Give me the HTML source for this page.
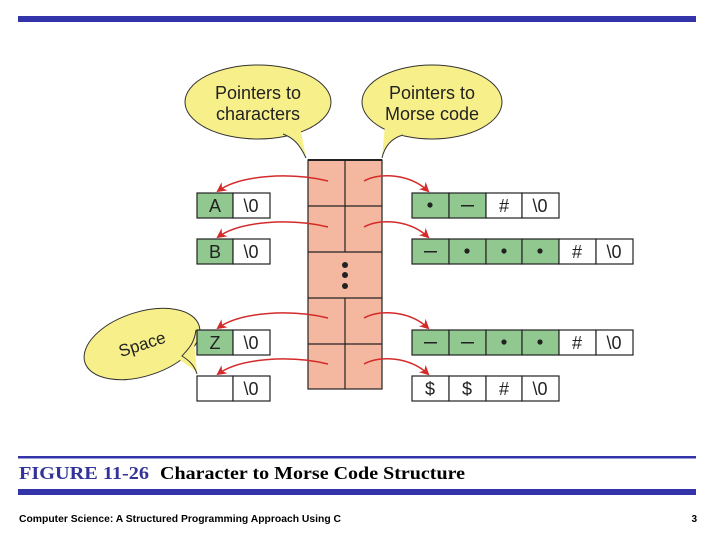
<!DOCTYPE html>
<html><head><meta charset="utf-8"><style>
html,body{margin:0;padding:0;background:#fff;width:720px;height:540px;overflow:hidden}
svg{display:block}
</style></head><body>
<svg width="720" height="540" xmlns="http://www.w3.org/2000/svg" font-family="Liberation Sans, sans-serif">
<defs>
<marker id="ah" markerWidth="10" markerHeight="10" refX="8" refY="5" orient="auto" markerUnits="userSpaceOnUse">
<path d="M0,0 L10,5 L0,10 L3,5 Z" fill="#d42a2a"/></marker>
</defs>
<rect x="18" y="16" width="678" height="6" fill="#3333aa"/>
<!-- bubbles -->
<ellipse cx="258" cy="102" rx="73" ry="37" fill="#f7ef8a" stroke="#333" stroke-width="1"/>
<path d="M306,158 C300,145 295,138 283,134 L300,126 Z" fill="#f7ef8a"/>
<path d="M306,158 C300,145 294,138 283,134" fill="none" stroke="#333"/>
<ellipse cx="432" cy="102" rx="70" ry="37" fill="#f7ef8a" stroke="#333" stroke-width="1"/>
<path d="M382,158 C385,145 392,138 405,135 L385,125 Z" fill="#f7ef8a"/>
<path d="M382,158 C385,145 392,138 403,135" fill="none" stroke="#333"/>
<text x="258" y="99" font-size="18" text-anchor="middle" fill="#222">Pointers to</text>
<text x="258" y="120" font-size="18" text-anchor="middle" fill="#222">characters</text>
<text x="432" y="99" font-size="18" text-anchor="middle" fill="#222">Pointers to</text>
<text x="432" y="120" font-size="18" text-anchor="middle" fill="#222">Morse code</text>
<!-- space bubble -->
<ellipse cx="142" cy="344" rx="60" ry="32" transform="rotate(-18 142 344)" fill="#f7ef8a" stroke="#333"/>
<path d="M193,332 L197,372 L180,360 Z" fill="#f7ef8a"/>
<path d="M196,330 C194,345 187,350 182,356 C188,360 194,364 197,374" fill="none" stroke="#333"/>
<text x="142" y="350" font-size="17" text-anchor="middle" fill="#222" transform="rotate(-18 142 344)">Space</text>
<!-- array -->
<rect x="308" y="160" width="74" height="229" fill="#f4b8a0" stroke="#222" stroke-width="1.2"/>
<line x1="308" y1="160" x2="382" y2="160" stroke="#222" stroke-width="2"/>
<g stroke="#222" stroke-width="1.2">
<line x1="345" y1="160" x2="345" y2="252"/><line x1="345" y1="298" x2="345" y2="389"/>
<line x1="308" y1="206" x2="382" y2="206"/><line x1="308" y1="252" x2="382" y2="252"/>
<line x1="308" y1="298" x2="382" y2="298"/><line x1="308" y1="344" x2="382" y2="344"/>
</g>
<g fill="#222"><circle cx="345" cy="265" r="3"/><circle cx="345" cy="275" r="3"/><circle cx="345" cy="286" r="3"/></g>
<!-- arrows -->
<g fill="none" stroke="#d42a2a" stroke-width="1.5" marker-end="url(#ah)">
<path d="M328,181 C290,172 240,175 218,191"/>
<path d="M328,227 C290,218 240,221 218,237"/>
<path d="M328,318 C290,309 240,312 218,328"/>
<path d="M328,364 C290,355 240,358 218,374"/>
<path d="M364,181 C380,172 410,174 428,191"/>
<path d="M364,227 C380,218 410,220 428,237"/>
<path d="M364,318 C380,309 410,311 428,328"/>
<path d="M364,364 C380,355 410,357 428,374"/>
</g>
<!-- left boxes -->
<g stroke="#222" stroke-width="1.2">
<rect x="197" y="193" width="36" height="25" fill="#90c890"/><rect x="233" y="193" width="37" height="25" fill="#fff"/>
<rect x="197" y="239" width="36" height="25" fill="#90c890"/><rect x="233" y="239" width="37" height="25" fill="#fff"/>
<rect x="197" y="330" width="36" height="25" fill="#90c890"/><rect x="233" y="330" width="37" height="25" fill="#fff"/>
<rect x="197" y="376" width="36" height="25" fill="#fff"/><rect x="233" y="376" width="37" height="25" fill="#fff"/>
</g>
<g font-size="18" text-anchor="middle" fill="#222">
<text x="215" y="212">A</text><text x="251" y="212">\0</text>
<text x="215" y="258">B</text><text x="251" y="258">\0</text>
<text x="215" y="349">Z</text><text x="251" y="349">\0</text>
<text x="251" y="395">\0</text>
</g>
<!-- right boxes -->
<g stroke="#222" stroke-width="1.2">
<rect x="412" y="193" width="37" height="25" fill="#90c890"/><rect x="449" y="193" width="37" height="25" fill="#90c890"/><rect x="486" y="193" width="36" height="25" fill="#fff"/><rect x="522" y="193" width="37" height="25" fill="#fff"/>
<rect x="412" y="239" width="37" height="25" fill="#90c890"/><rect x="449" y="239" width="37" height="25" fill="#90c890"/><rect x="486" y="239" width="36" height="25" fill="#90c890"/><rect x="522" y="239" width="37" height="25" fill="#90c890"/><rect x="559" y="239" width="37" height="25" fill="#fff"/><rect x="596" y="239" width="37" height="25" fill="#fff"/>
<rect x="412" y="330" width="37" height="25" fill="#90c890"/><rect x="449" y="330" width="37" height="25" fill="#90c890"/><rect x="486" y="330" width="36" height="25" fill="#90c890"/><rect x="522" y="330" width="37" height="25" fill="#90c890"/><rect x="559" y="330" width="37" height="25" fill="#fff"/><rect x="596" y="330" width="37" height="25" fill="#fff"/>
<rect x="412" y="376" width="37" height="25" fill="#fff"/><rect x="449" y="376" width="37" height="25" fill="#fff"/><rect x="486" y="376" width="36" height="25" fill="#fff"/><rect x="522" y="376" width="37" height="25" fill="#fff"/>
</g>
<g fill="#222">
<circle cx="430" cy="205" r="2.6"/><rect x="461" y="205" width="13" height="1.5"/>
<rect x="424" y="251" width="13" height="1.5"/><circle cx="467" cy="251" r="2.6"/><circle cx="504" cy="251" r="2.6"/><circle cx="540" cy="251" r="2.6"/>
<rect x="424" y="342" width="13" height="1.5"/><rect x="461" y="342" width="13" height="1.5"/><circle cx="504" cy="342" r="2.6"/><circle cx="540" cy="342" r="2.6"/>
</g>
<g font-size="18" text-anchor="middle" fill="#222">
<text x="504" y="212">#</text><text x="540" y="212">\0</text>
<text x="577" y="258">#</text><text x="614" y="258">\0</text>
<text x="577" y="349">#</text><text x="614" y="349">\0</text>
<text x="430" y="395">$</text><text x="467" y="395">$</text><text x="504" y="395">#</text><text x="540" y="395">\0</text>
</g>
<!-- caption -->
<rect x="18" y="456" width="678" height="2.5" fill="#3333aa"/>
<text x="19" y="479" font-family="Liberation Serif, serif" font-weight="bold" font-size="18" fill="#333399" textLength="130" lengthAdjust="spacingAndGlyphs">FIGURE 11-26</text>
<text x="160" y="479" font-family="Liberation Serif, serif" font-weight="bold" font-size="18" fill="#000" textLength="305" lengthAdjust="spacingAndGlyphs">Character to Morse Code Structure</text>
<rect x="18" y="489" width="678" height="6" fill="#3333aa"/>
<text x="19" y="522" font-size="10" font-weight="bold" fill="#000" textLength="322" lengthAdjust="spacingAndGlyphs">Computer Science: A Structured Programming Approach Using C</text>
<text x="697" y="522" font-size="10" font-weight="bold" text-anchor="end" fill="#000">3</text>
</svg>
</body></html>
